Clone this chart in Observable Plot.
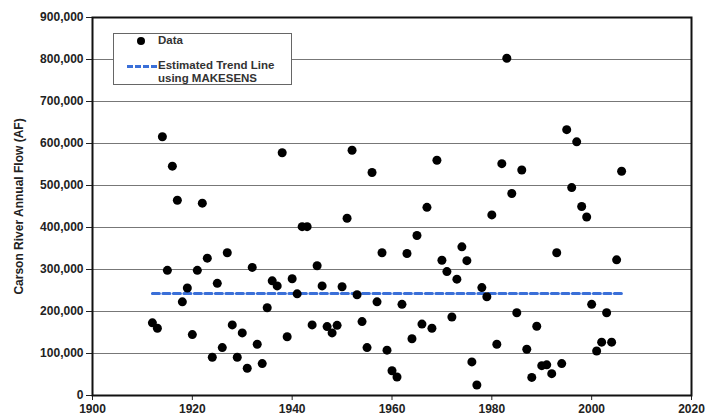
<!DOCTYPE html>
<html>
<head>
<meta charset="utf-8">
<script src="https://cdn.jsdelivr.net/npm/d3@7"></script>
<script src="https://cdn.jsdelivr.net/npm/@observablehq/plot@0.6"></script>
<style>
  html, body { margin: 0; padding: 0; background: #fff; }
  #wrap { position: relative; width: 716px; height: 416px; font-family: "Liberation Sans", Arial, sans-serif; }
  #legend { position: absolute; left: 113px; top: 33px; width: 179px; height: 52px; background: #fff; border: 1px solid #666; box-sizing: border-box; font-weight: bold; font-size: 11.5px; color: #333; }
  #legend .row { position: absolute; left: 0; white-space: nowrap; line-height: 13px; }
  #legend .dot { position: absolute; width: 8px; height: 8px; border-radius: 50%; background: #000; }
  #legend .dash { position: absolute; height: 0; border-top: 3px dashed #3a6fd8; }
</style>
</head>
<body>
<div id="wrap">
  <div id="chart"></div>
  <div id="legend">
    <div class="dot" style="left:23px; top:3px;"></div>
    <div class="row" style="left:44px; top:0px;">Data</div>
    <div class="dash" style="left:13px; top:31px; width:30px;"></div>
    <div class="row" style="left:44px; top:25px;">Estimated Trend Line<br>using MAKESENS</div>
  </div>
</div>
<script>
const years = [1912,1913,1914,1915,1916,1917,1918,1919,1920,1921,1922,1923,1924,1925,1926,1927,1928,1929,1930,1931,1932,1933,1934,1935,1936,1937,1938,1939,1940,1941,1942,1943,1944,1945,1946,1947,1948,1949,1950,1951,1952,1953,1954,1955,1956,1957,1958,1959,1960,1961,1962,1963,1964,1965,1966,1967,1968,1969,1970,1971,1972,1973,1974,1975,1976,1977,1978,1979,1980,1981,1982,1983,1984,1985,1986,1987,1988,1989,1990,1991,1992,1993,1994,1995,1996,1997,1998,1999,2000,2001,2002,2003,2004,2005,2006];
const flows = [173000,160000,616000,298000,546000,465000,223000,256000,145000,298000,458000,327000,91000,267000,114000,340000,168000,91000,149000,65000,305000,122000,76000,209000,273000,261000,578000,140000,278000,242000,402000,402000,168000,309000,261000,164000,149000,167000,259000,422000,584000,240000,176000,114000,531000,223000,340000,108000,59000,44000,217000,338000,135000,381000,170000,448000,160000,560000,322000,295000,187000,277000,354000,321000,80000,25000,257000,235000,430000,122000,552000,803000,481000,197000,537000,110000,43000,165000,71000,73000,52000,340000,76000,633000,495000,604000,450000,425000,217000,106000,127000,197000,127000,323000,534000];
const trendYears = [1912, 2006];
const trendFlows = [243000, 243000];
const xTicks = [1900,1920,1940,1960,1980,2000,2020];
const yTicks = [0,100000,200000,300000,400000,500000,600000,700000,800000,900000];

const points = years.map((y, i) => ({year: y, flow: flows[i]}));
const trend = trendYears.map((y, i) => ({year: y, flow: trendFlows[i]}));

const chart = Plot.plot({
  width: 716,
  height: 416,
  marginLeft: 92,
  marginRight: 25,
  marginTop: 17,
  marginBottom: 21,
  style: {fontFamily: "'Liberation Sans', Arial, sans-serif", fontWeight: "bold", fontSize: "12px", color: "#222", background: "#fff"},
  x: {domain: [1900, 2020]},
  y: {domain: [0, 900000]},
  marks: [
    Plot.gridY(yTicks, {stroke: "#777", strokeOpacity: 1, strokeWidth: 1}),
    Plot.axisY(yTicks, {tickFormat: d3.format(","), tickSize: 6, tickPadding: 3, fontSize: 12, fontWeight: "bold", label: "Carson River Annual Flow (AF)", labelAnchor: "center", labelArrow: "none", labelOffset: 78}),
    Plot.axisX(xTicks, {tickFormat: d => String(d), tickSize: 5, tickPadding: 4, fontSize: 12, fontWeight: "bold", label: null}),
    Plot.line(trend, {x: "year", y: "flow", stroke: "#3a6fd8", strokeWidth: 3, strokeDasharray: "7,3.5"}),
    Plot.dot(points, {x: "year", y: "flow", r: 4.5, fill: "#000", stroke: "none"}),
    Plot.frame({stroke: "#111", strokeWidth: 2})
  ]
});
document.getElementById("chart").appendChild(chart);
</script>
</body>
</html>
